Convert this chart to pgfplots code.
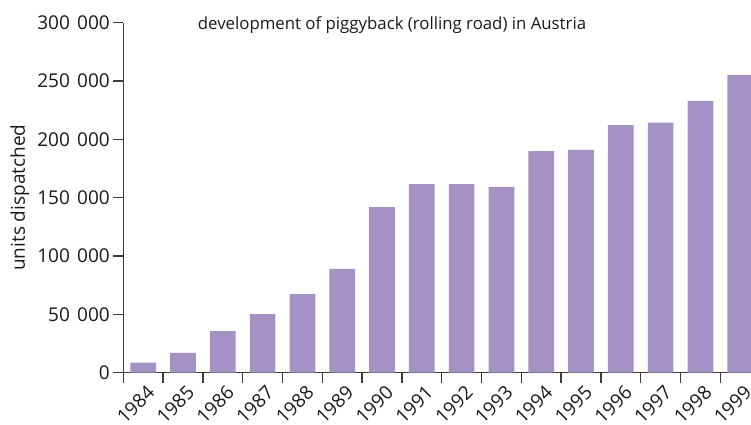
\documentclass[border=0pt]{standalone}
\usepackage{fontspec}
\setmainfont{Open Sans}
\usepackage{pgfplots}
\pgfplotsset{compat=1.18}
\definecolor{barc}{RGB}{163,146,195}
\definecolor{axc}{RGB}{60,60,60}
\definecolor{txt}{RGB}{25,25,25}
\newcommand{\ts}{\hspace{0.38em}}
\begin{document}
\begin{tikzpicture}[x=1pt,y=1pt]
\begin{axis}[
  at={(123.3pt,51.3pt)}, anchor=south west,
  scale only axis, width=636.8pt, height=350pt,
  xmin=-0.5, xmax=15.5, ymin=0, ymax=300000,
  axis x line*=bottom, axis y line*=left,
  axis line style={axc, line width=1.3pt},
  ybar, bar width=25.7pt,
  ytick={0,50000,100000,150000,200000,250000,300000},
  yticklabels={0,50\ts000,100\ts000,150\ts000,200\ts000,250\ts000,300\ts000},
  scaled y ticks=false,
  tick label style={font=\fontsize{19}{22}\selectfont, text=txt},
  tick align=outside, major tick length=10pt,
  tick style={axc, line width=1.3pt},
  xtick={-0.5,0.5,1.5,2.5,3.5,4.5,5.5,6.5,7.5,8.5,9.5,10.5,11.5,12.5,13.5,14.5,15.5},
  xticklabels={1984,1985,1986,1987,1988,1989,1990,1991,1992,1993,1994,1995,1996,1997,1998,1999,},
  xticklabel style={inner sep=0pt, anchor=base east, xshift=32.6pt, yshift=-11.3pt, rotate=45},
]
\addplot[fill=barc, draw=none] coordinates {
(0,8600) (1,17100) (2,35700) (3,50300) (4,67400) (5,88900) (6,142000) (7,161700)
(8,161700) (9,159200) (10,190000) (11,190900) (12,212300) (13,214300) (14,232900) (15,255200)};
\end{axis}
\node[anchor=base, text=txt, font=\fontsize{16.8}{19}\selectfont] at (392pt,394.5pt) {development of piggyback (rolling road) in Austria};
\node[rotate=90, text=txt, font=\fontsize{19}{22}\selectfont] at (20pt,226.3pt) {units dispatched};
\pgfresetboundingbox
\useasboundingbox (0,0) rectangle (751pt,424pt);
\end{tikzpicture}
\end{document}
